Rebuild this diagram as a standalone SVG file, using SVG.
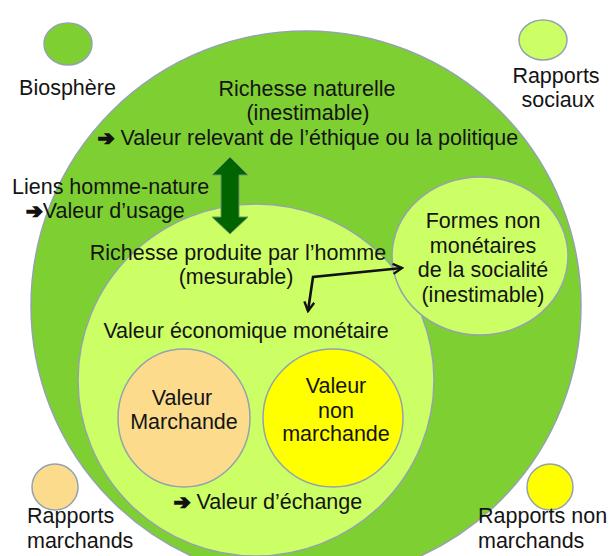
<svg xmlns="http://www.w3.org/2000/svg" width="613" height="556" viewBox="0 0 613 556">
<style>
  .t { font-family: "Liberation Sans", Arial, sans-serif; font-size: 21.5px; fill: #141414; }
  .m { text-anchor: middle; }
  .ar { font-family: "DejaVu Sans", sans-serif; font-weight: bold; font-size: 20px; stroke: #111; stroke-width: 1.6; fill: #111; }
  .c { stroke: #93a3ad; stroke-width: 1.5; }
  .bio { fill: #7ed032; }
  .soc { fill: #ccff66; }
  .mar { fill: #fcdc8c; }
  .nmar { fill: #ffff00; }
  .link { fill: none; stroke: #111; stroke-width: 2.6; stroke-linejoin: miter; }
</style>
<defs>
  <marker id="vhead" viewBox="0 0 12 12" refX="10" refY="6" markerWidth="12" markerHeight="12" markerUnits="userSpaceOnUse" orient="auto-start-reverse">
    <path d="M1,1 L10,6 L1,11" fill="none" stroke="#111" stroke-width="2.4"/>
  </marker>
</defs>
<rect width="613" height="556" fill="#ffffff"/>

<g id="biosphere">
  <circle class="c bio" cx="306" cy="306" r="275"/>
  <text class="t m" x="307" y="96">Richesse naturelle</text>
  <text class="t m" x="308" y="120">(inestimable)</text>
  <text class="t m" x="308" y="145"><tspan class="ar">➔</tspan> Valeur relevant de l’éthique ou la politique</text>
</g>

<g id="legend-biosphere">
  <ellipse class="c bio" cx="68" cy="44" rx="24" ry="21"/>
  <text class="t m" x="67.5" y="95">Biosphère</text>
</g>

<g id="legend-sociaux">
  <ellipse class="c soc" cx="543" cy="40" rx="24" ry="20"/>
  <text class="t m" x="556" y="83">Rapports</text>
  <text class="t m" x="558" y="107">sociaux</text>
</g>

<g id="legend-marchands">
  <circle class="c mar" cx="55" cy="487" r="23"/>
  <text class="t" x="27" y="523">Rapports</text>
  <text class="t" x="27" y="548">marchands</text>
</g>

<g id="legend-non-marchands">
  <circle class="c nmar" cx="550" cy="487" r="23"/>
  <text class="t" x="478" y="523">Rapports non</text>
  <text class="t" x="478" y="548">marchands</text>
</g>

<g id="liens">
  <text class="t" x="12" y="194">Liens homme-nature</text>
  <text class="t" x="26" y="218"><tspan class="ar">➔</tspan>Valeur d’usage</text>
</g>

<g id="richesse-produite">
  <ellipse class="c soc" cx="256" cy="380" rx="178" ry="176"/>
  <text class="t m" x="238" y="260">Richesse produite par l’homme</text>
  <text class="t m" x="236" y="284">(mesurable)</text>
  <text class="t m" x="246" y="338">Valeur économique monétaire</text>
  <text class="t m" x="268" y="509"><tspan class="ar">➔</tspan> Valeur d’échange</text>
</g>

<g id="formes-non-monetaires">
  <ellipse class="c soc" cx="480" cy="256" rx="88" ry="79"/>
  <text class="t m" x="483" y="228">Formes non</text>
  <text class="t m" x="483" y="253">monétaires</text>
  <text class="t m" x="483" y="277">de la socialité</text>
  <text class="t m" x="483" y="302">(inestimable)</text>
</g>

<g id="valeur-marchande">
  <ellipse class="c mar" cx="184" cy="418" rx="66" ry="69"/>
  <text class="t m" x="182" y="405">Valeur</text>
  <text class="t m" x="184" y="429">Marchande</text>
</g>

<g id="valeur-non-marchande">
  <ellipse class="c nmar" cx="333" cy="418" rx="70" ry="69"/>
  <text class="t m" x="336" y="393">Valeur</text>
  <text class="t m" x="336" y="418">non</text>
  <text class="t m" x="336" y="441">marchande</text>
</g>

<g id="connectors">
  <polygon points="230,157 248,175 239,175 239,217 248,217 230,234 212,217 221,217 221,175 212,175" fill="#006400" stroke="#6f936f" stroke-width="1"/>
  <path class="link" d="M402,268 L313,277 L308,311" marker-start="url(#vhead)" marker-end="url(#vhead)"/>
</g>
</svg>
